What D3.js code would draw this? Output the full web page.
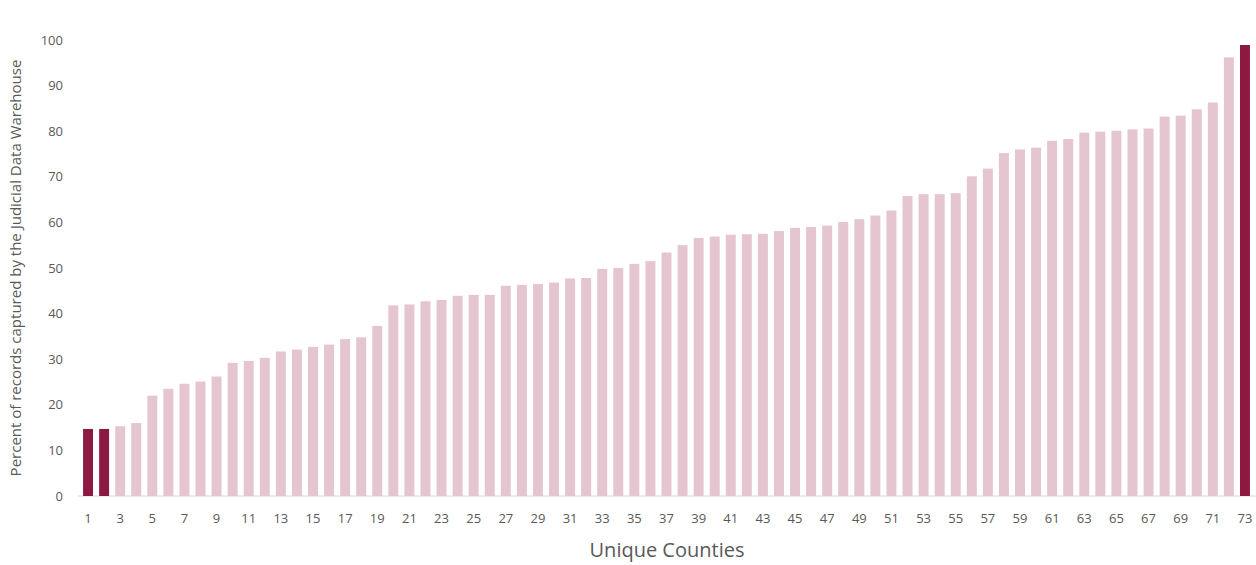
<!DOCTYPE html>
<html>
<head>
<meta charset="utf-8">
<script src="https://cdn.jsdelivr.net/npm/d3@7"></script>
<style>
  html, body { margin: 0; padding: 0; background: #fff; }
  svg { display: block; font-family: "Open Sans", "Liberation Sans", sans-serif; }
</style>
</head>
<body>
<svg id="chart" width="1256" height="565"></svg>
<script>
const counties = d3.range(1, 74);
const values = [
  14.7, 14.7, 15.3, 16.0, 22.0, 23.5, 24.6, 25.1, 26.2, 29.2,
  29.6, 30.3, 31.7, 32.1, 32.7, 33.2, 34.4, 34.8, 37.3, 41.8,
  42.0, 42.7, 43.0, 43.9, 44.1, 44.1, 46.1, 46.3, 46.5, 46.8,
  47.7, 47.8, 49.8, 50.0, 50.9, 51.5, 53.4, 55.0, 56.6, 56.9,
  57.3, 57.4, 57.5, 58.1, 58.8, 59.0, 59.3, 60.1, 60.7, 61.5,
  62.6, 65.8, 66.2, 66.2, 66.4, 70.1, 71.8, 75.2, 76.0, 76.4,
  77.9, 78.3, 79.7, 79.9, 80.1, 80.4, 80.6, 83.2, 83.4, 84.8,
  86.3, 96.2, 98.9
];
const highlighted = [1, 2, 73];
const yTicks = [0, 10, 20, 30, 40, 50, 60, 70, 80, 90, 100];
const xTickLabels = counties.filter(d => d % 2 === 1);
const yTitle = "Percent of records captured by the Judicial Data Warehouse";
const xTitle = "Unique Counties";

const FONT = '"Open Sans", "Liberation Sans", sans-serif';
const svg = d3.select("#chart");
const x = d3.scaleBand().domain(counties).range([80, 1253]).paddingInner(0.38).paddingOuter(0.19);
const y = d3.scaleLinear().domain([0, 100]).range([496, 40]);

// baseline
svg.append("line")
  .attr("x1", 78).attr("x2", 1256)
  .attr("y1", y(0)).attr("y2", y(0))
  .attr("stroke", "#d9d9d9").attr("stroke-width", 1);

// bars
svg.append("g").selectAll("rect")
  .data(counties)
  .join("rect")
  .attr("x", d => x(d))
  .attr("width", x.bandwidth())
  .attr("y", (d, i) => y(values[i]))
  .attr("height", (d, i) => y(0) - y(values[i]))
  .attr("fill", d => highlighted.includes(d) ? "#8c1941" : "#e5c5cf");

// y axis
const yAxis = svg.append("g")
  .attr("transform", "translate(63,0)")
  .call(d3.axisLeft(y).tickValues(yTicks).tickSize(0).tickPadding(0));
yAxis.attr("font-family", FONT);
yAxis.select(".domain").remove();
yAxis.selectAll("text")
  .attr("fill", "#595959")
  .style("font-size", "13px");

// x axis
const xAxis = svg.append("g")
  .attr("transform", `translate(0,${y(0)})`)
  .call(d3.axisBottom(x).tickValues(xTickLabels).tickSize(0).tickPadding(18));
xAxis.attr("font-family", FONT);
xAxis.select(".domain").remove();
xAxis.selectAll("text")
  .attr("fill", "#595959")
  .style("font-size", "13px");

// titles
svg.append("text")
  .attr("transform", "translate(21,268) rotate(-90)")
  .attr("text-anchor", "middle")
  .attr("fill", "#595959")
  .style("font-size", "15px")
  .text(yTitle);

svg.append("text")
  .attr("x", 667).attr("y", 557)
  .attr("text-anchor", "middle")
  .attr("fill", "#595959")
  .style("font-size", "20px")
  .text(xTitle);
</script>
</body>
</html>
